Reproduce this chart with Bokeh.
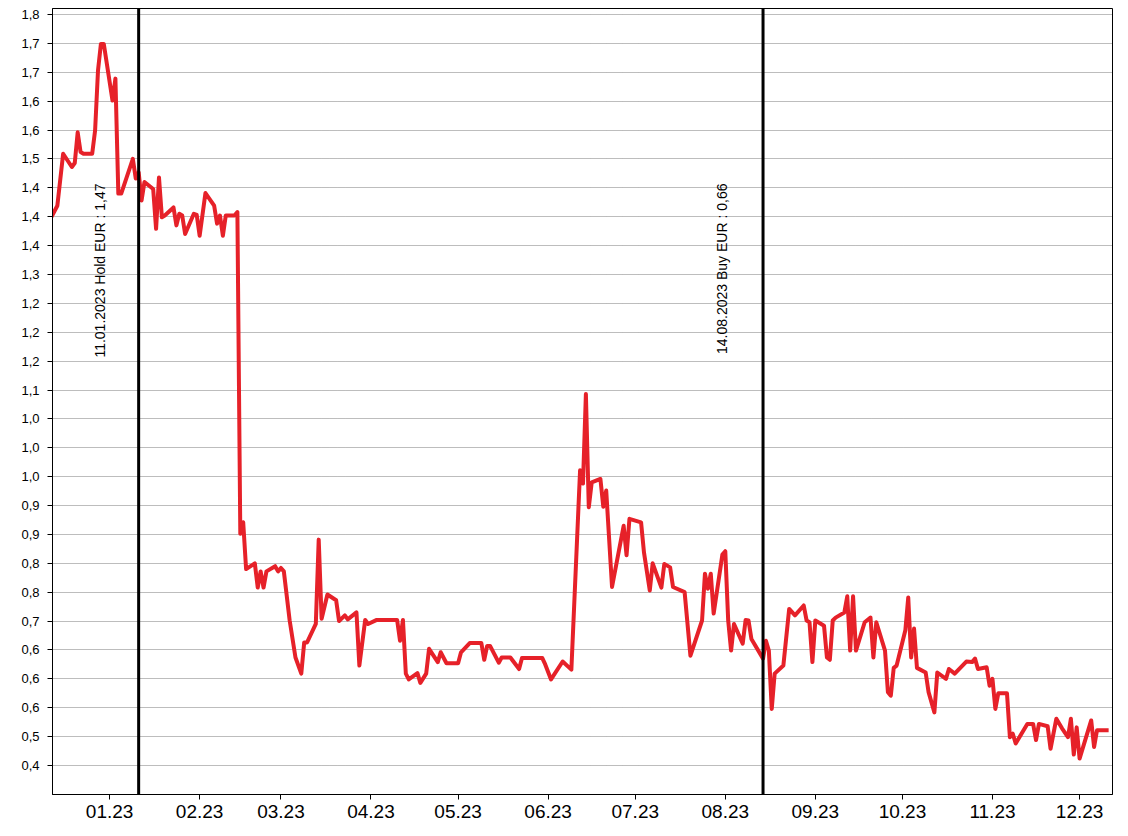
import math
import pandas as pd
from bokeh.plotting import figure
from bokeh.models import Range1d, FixedTicker, MonthsTicker, DatetimeTickFormatter, Span, Label
from bokeh.embed import file_html
from bokeh.resources import INLINE

DATES = [
    "2022-12-12", "2022-12-14", "2022-12-16", "2022-12-19", "2022-12-20", "2022-12-21",
    "2022-12-22", "2022-12-23", "2022-12-26", "2022-12-27", "2022-12-28", "2022-12-29",
    "2022-12-30", "2023-01-02", "2023-01-03", "2023-01-04", "2023-01-05", "2023-01-09",
    "2023-01-10", "2023-01-11", "2023-01-12", "2023-01-13", "2023-01-16", "2023-01-17",
    "2023-01-18", "2023-01-19", "2023-01-20", "2023-01-23", "2023-01-24", "2023-01-25",
    "2023-01-26", "2023-01-27", "2023-01-30", "2023-01-31", "2023-02-01", "2023-02-03",
    "2023-02-06", "2023-02-07", "2023-02-08", "2023-02-09", "2023-02-10", "2023-02-13",
    "2023-02-14", "2023-02-15", "2023-02-16", "2023-02-17", "2023-02-20", "2023-02-21",
    "2023-02-22", "2023-02-23", "2023-02-24", "2023-02-27", "2023-02-28", "2023-03-01",
    "2023-03-02", "2023-03-04", "2023-03-06", "2023-03-08", "2023-03-09", "2023-03-10",
    "2023-03-13", "2023-03-14", "2023-03-15", "2023-03-17", "2023-03-20", "2023-03-21",
    "2023-03-23", "2023-03-24", "2023-03-27", "2023-03-28", "2023-03-30", "2023-03-31",
    "2023-04-03", "2023-04-10", "2023-04-11", "2023-04-12", "2023-04-13", "2023-04-14",
    "2023-04-17", "2023-04-18", "2023-04-20", "2023-04-21", "2023-04-24", "2023-04-25",
    "2023-04-27", "2023-05-01", "2023-05-02", "2023-05-05", "2023-05-09", "2023-05-10",
    "2023-05-11", "2023-05-12", "2023-05-15", "2023-05-16", "2023-05-19", "2023-05-22",
    "2023-05-23", "2023-05-30", "2023-05-31", "2023-06-02", "2023-06-06", "2023-06-09",
    "2023-06-12", "2023-06-13", "2023-06-14", "2023-06-15", "2023-06-16", "2023-06-19",
    "2023-06-20", "2023-06-21", "2023-06-23", "2023-06-27", "2023-06-28", "2023-06-29",
    "2023-07-03", "2023-07-04", "2023-07-06", "2023-07-07", "2023-07-10", "2023-07-11",
    "2023-07-13", "2023-07-14", "2023-07-18", "2023-07-20", "2023-07-24", "2023-07-25",
    "2023-07-26", "2023-07-27", "2023-07-28", "2023-07-31", "2023-08-01", "2023-08-02",
    "2023-08-03", "2023-08-04", "2023-08-07", "2023-08-08", "2023-08-09", "2023-08-10",
    "2023-08-14", "2023-08-15", "2023-08-16", "2023-08-17", "2023-08-18", "2023-08-21",
    "2023-08-23", "2023-08-25", "2023-08-28", "2023-08-29", "2023-08-30", "2023-08-31",
    "2023-09-01", "2023-09-04", "2023-09-05", "2023-09-06", "2023-09-07", "2023-09-08",
    "2023-09-11", "2023-09-12", "2023-09-13", "2023-09-14", "2023-09-15", "2023-09-18",
    "2023-09-20", "2023-09-21", "2023-09-22", "2023-09-25", "2023-09-26", "2023-09-27",
    "2023-09-28", "2023-09-29", "2023-10-02", "2023-10-03", "2023-10-04", "2023-10-05",
    "2023-10-06", "2023-10-09", "2023-10-10", "2023-10-12", "2023-10-13", "2023-10-16",
    "2023-10-17", "2023-10-19", "2023-10-23", "2023-10-25", "2023-10-26", "2023-10-27",
    "2023-10-30", "2023-10-31", "2023-11-01", "2023-11-02", "2023-11-03", "2023-11-06",
    "2023-11-07", "2023-11-08", "2023-11-09", "2023-11-13", "2023-11-15", "2023-11-16",
    "2023-11-17", "2023-11-20", "2023-11-21", "2023-11-23", "2023-11-25", "2023-11-27",
    "2023-11-28", "2023-11-29", "2023-11-30", "2023-12-01", "2023-12-05", "2023-12-06",
    "2023-12-07", "2023-12-11",
]

PRICES = [
    1.400, 1.419, 1.509, 1.486, 1.493, 1.546,
    1.512, 1.509, 1.509, 1.549, 1.653, 1.699,
    1.699, 1.601, 1.639, 1.440, 1.440, 1.500,
    1.466, 1.477, 1.428, 1.460, 1.448, 1.379,
    1.468, 1.399, 1.402, 1.416, 1.385, 1.405,
    1.402, 1.370, 1.405, 1.403, 1.367, 1.441,
    1.419, 1.388, 1.402, 1.367, 1.402, 1.402,
    1.408, 0.851, 0.871, 0.790, 0.800, 0.758,
    0.786, 0.758, 0.786, 0.795, 0.786, 0.792,
    0.786, 0.701, 0.637, 0.609, 0.663, 0.663,
    0.695, 0.841, 0.704, 0.746, 0.736, 0.700,
    0.710, 0.703, 0.715, 0.623, 0.702, 0.695,
    0.702, 0.702, 0.666, 0.702, 0.609, 0.599,
    0.610, 0.593, 0.609, 0.652, 0.629, 0.646,
    0.627, 0.627, 0.646, 0.662, 0.662, 0.633,
    0.657, 0.657, 0.628, 0.637, 0.637, 0.617,
    0.636, 0.636, 0.625, 0.599, 0.630, 0.616,
    0.961, 0.938, 1.093, 0.897, 0.940, 0.946,
    0.898, 0.926, 0.759, 0.865, 0.814, 0.877,
    0.871, 0.819, 0.753, 0.800, 0.758, 0.799,
    0.793, 0.759, 0.750, 0.640, 0.701, 0.782,
    0.756, 0.782, 0.713, 0.815, 0.821, 0.701,
    0.649, 0.695, 0.661, 0.702, 0.701, 0.669,
    0.635, 0.666, 0.649, 0.548, 0.609, 0.623,
    0.721, 0.710, 0.727, 0.701, 0.698, 0.629,
    0.701, 0.692, 0.637, 0.633, 0.701, 0.706,
    0.715, 0.743, 0.649, 0.743, 0.649, 0.698,
    0.706, 0.637, 0.698, 0.649, 0.577, 0.571,
    0.619, 0.623, 0.684, 0.741, 0.637, 0.687,
    0.619, 0.611, 0.577, 0.542, 0.611, 0.600,
    0.617, 0.609, 0.630, 0.629, 0.635, 0.617,
    0.620, 0.588, 0.600, 0.548, 0.575, 0.575,
    0.499, 0.505, 0.488, 0.522, 0.522, 0.494,
    0.522, 0.518, 0.479, 0.531, 0.514, 0.499,
    0.531, 0.469, 0.516, 0.462, 0.528, 0.482,
    0.511, 0.511,
]

Y_TICKS = [0.45, 0.50, 0.55, 0.60, 0.65, 0.70, 0.75, 0.80, 0.85, 0.90, 0.95, 1.00, 1.05,
           1.10, 1.15, 1.20, 1.25, 1.30, 1.35, 1.40, 1.45, 1.50, 1.55, 1.60, 1.65, 1.70, 1.75]
Y_TICK_LABELS = ["0,4", "0,5", "0,6", "0,6", "0,6", "0,7", "0,8", "0,8", "0,9", "0,9", "1,0", "1,0", "1,0",
                 "1,1", "1,2", "1,2", "1,2", "1,3", "1,4", "1,4", "1,4", "1,5", "1,6", "1,6", "1,7", "1,7", "1,8"]

EVENT_DATES = ["2023-01-11", "2023-08-14"]
EVENT_TEXTS = ["11.01.2023 Hold EUR : 1,47", "14.08.2023 Buy EUR : 0,66"]

FONT = "Liberation Sans"

x = pd.to_datetime(DATES)

p = figure(
    x_axis_type="datetime",
    frame_width=1060, frame_height=786,
    x_range=Range1d(pd.Timestamp("2022-12-12 08:00"), pd.Timestamp("2023-12-12 08:00")),
    y_range=Range1d(0.3998, 1.7604),
    output_backend="svg", toolbar_location=None,
    min_border_left=52, min_border_right=8, min_border_top=8, min_border_bottom=40,
    background_fill_color="white", border_fill_color="white",
)
p.outline_line_color = "black"
p.outline_line_width = 1
p.outline_line_alpha = 1.0

p.xgrid.visible = False
p.ygrid.grid_line_color = "#7a7a7a"
p.ygrid.grid_line_dash = "1 1"
p.ygrid.grid_line_width = 1

# y axis
p.yaxis.ticker = FixedTicker(ticks=Y_TICKS)
p.yaxis.major_label_overrides = {t: lab for t, lab in zip(Y_TICKS, Y_TICK_LABELS)}
p.yaxis.minor_tick_line_color = None
p.yaxis.major_tick_in = 0
p.yaxis.major_tick_out = 5
p.yaxis.major_tick_line_color = "black"
p.yaxis.axis_line_color = "black"
p.yaxis.major_label_standoff = 8
p.yaxis.major_label_text_font = FONT
p.yaxis.major_label_text_font_size = "13px"
p.yaxis.major_label_text_color = "black"

# x axis
p.xaxis.ticker = MonthsTicker(months=list(range(1, 13)))
p.xaxis.formatter = DatetimeTickFormatter(
    months="%m.%y", days="%m.%y", years="%m.%y", hours="%m.%y", minutes="%m.%y",
)
p.xaxis.minor_tick_line_color = None
p.xaxis.major_tick_in = 0
p.xaxis.major_tick_out = 5
p.xaxis.major_tick_line_color = "black"
p.xaxis.axis_line_color = "black"
p.xaxis.major_label_standoff = 5
p.xaxis.major_label_text_font = FONT
p.xaxis.major_label_text_font_size = "19px"
p.xaxis.major_label_text_color = "black"

p.line(x, PRICES, line_color="#e62129", line_width=4, line_join="round")

offsets = [-39, -41]
for d, txt, off in zip(EVENT_DATES, EVENT_TEXTS, offsets):
    ms = pd.Timestamp(d).value / 1e6
    p.add_layout(Span(location=ms, dimension="height", line_color="black", line_width=3))
    p.add_layout(Label(x=ms, y=1.4574, x_offset=off, text=txt, angle=math.pi / 2,
                       text_align="right", text_baseline="middle",
                       text_font=FONT, text_font_size="14px", text_color="black"))

open("out.html", "w").write(file_html(p, INLINE))
